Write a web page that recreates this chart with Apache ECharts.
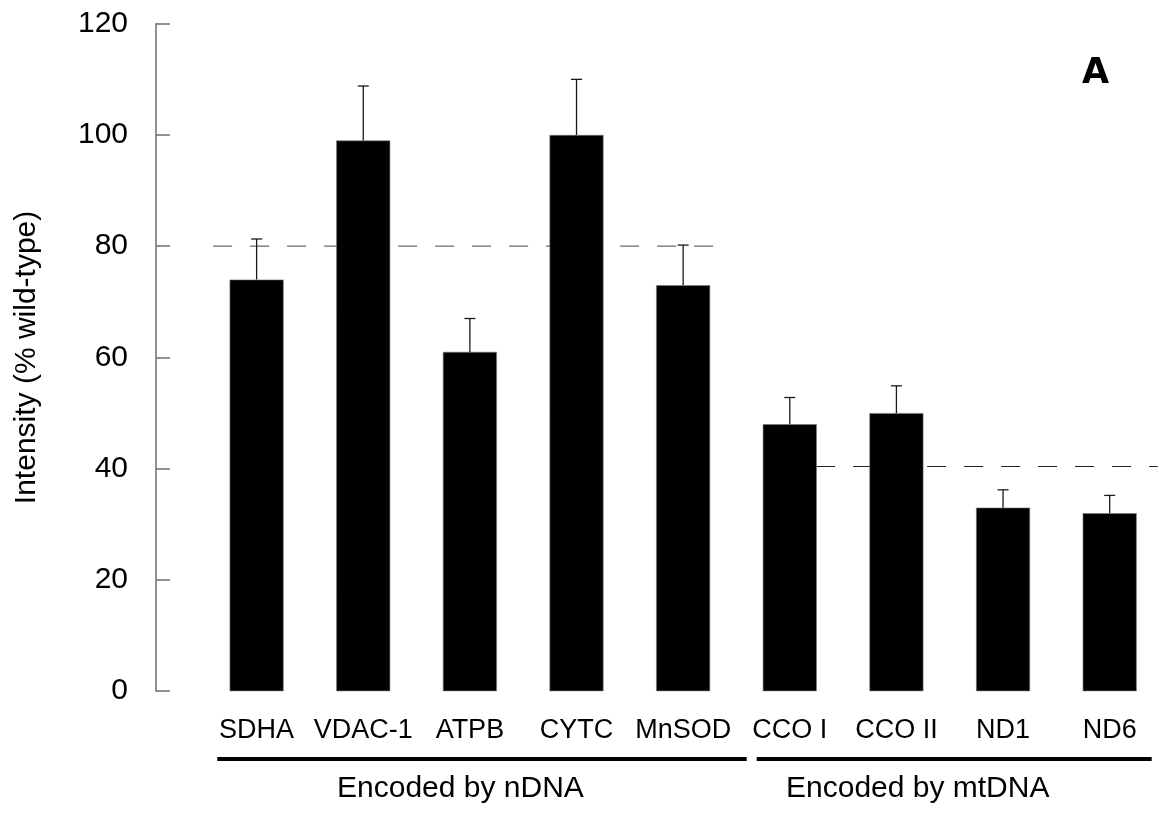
<!DOCTYPE html>
<html>
<head>
<meta charset="utf-8">
<script src="https://cdn.jsdelivr.net/npm/echarts@6/dist/echarts.min.js"></script>
<style>
html,body{margin:0;padding:0;background:#fff;}
#chart{width:1163px;height:814px;}
</style>
</head>
<body>
<div id="chart"></div>
<script>
// ---- data ----
var categories = ['SDHA', 'VDAC-1', 'ATPB', 'CYTC', 'MnSOD', 'CCO I', 'CCO II', 'ND1', 'ND6'];
var values = [74, 99, 61, 100, 73, 48, 50, 33, 32];
var errors = [7.3, 9.8, 6.0, 10.0, 7.2, 4.8, 4.9, 3.2, 3.2];
var yTicks = [0, 20, 40, 60, 80, 100, 120];
// dashed reference levels (value) and their extent in category units
var refValues = [80, 40.4];
var refFrom = [-0.755, 4.9];
var refTo = [4.283, 8.45];
var groupLabels = ['Encoded by nDNA', 'Encoded by mtDNA'];
var panelLabel = 'A';
var yName = 'Intensity (% wild-type)';

var FONT = "'Liberation Sans', Arial, Helvetica, sans-serif";
var chart = echarts.init(document.getElementById('chart'), null, {renderer: 'canvas'});

var refSeries = refValues.map(function (v, i) {
  return {
    type: 'line',
    xAxisIndex: 1,
    data: [[refFrom[i], v], [refTo[i], v]],
    symbol: 'none',
    clip: false,
    silent: true,
    z: 1,
    lineStyle: {color: i === 0 ? '#6a6a6a' : '#222', width: 1.2, type: [19, 18]}
  };
});

var option = {
  animation: false,
  backgroundColor: '#fff',
  grid: {left: 203.3, right: -6.3, top: 23.7, bottom: 122.8, containLabel: false},
  xAxis: [{
    type: 'category',
    data: categories,
    axisLine: {show: false, onZero: false},
    axisTick: {show: false},
    axisLabel: {color: '#000', fontFamily: FONT, fontSize: 27, margin: 26, interval: 0}
  }, {
    type: 'value',
    min: -0.5,
    max: 8.5,
    show: false,
    axisLine: {onZero: false}
  }],
  yAxis: {
    type: 'value',
    min: yTicks[0],
    max: yTicks[yTicks.length - 1],
    interval: 20,
    offset: 47.3,
    name: yName,
    nameLocation: 'middle',
    nameRotate: 90,
    nameGap: 114,
    nameTextStyle: {color: '#000', fontFamily: FONT, fontSize: 30},
    axisLine: {show: true, onZero: false, lineStyle: {color: '#6e6e6e', width: 1.5}},
    axisTick: {show: true, inside: true, length: 14, lineStyle: {color: '#6e6e6e', width: 1.5}},
    axisLabel: {color: '#000', fontFamily: FONT, fontSize: 30, margin: 28},
    splitLine: {show: false}
  },
  series: refSeries.concat([{
    type: 'bar',
    data: values,
    barWidth: 54,
    z: 3,
    itemStyle: {color: '#000', borderColor: '#7a7a7a', borderWidth: 0.6}
  }, {
    type: 'custom',
    z: 4,
    data: values.map(function (v, i) { return [i, v, v + errors[i]]; }),
    renderItem: function (params, api) {
      var i = api.value(0);
      var p0 = api.coord([i, api.value(1)]);
      var p1 = api.coord([i, api.value(2)]);
      var hw = 5.5;
      var st = {stroke: '#1a1a1a', lineWidth: 1.3};
      return {
        type: 'group',
        children: [
          {type: 'line', shape: {x1: p0[0], y1: p0[1], x2: p1[0], y2: p1[1]}, style: st},
          {type: 'line', shape: {x1: p1[0] - hw, y1: p1[1], x2: p1[0] + hw, y2: p1[1]}, style: st}
        ]
      };
    }
  }]),
  graphic: [
    {type: 'rect', shape: {x: 217.3, y: 757, width: 529.4, height: 4}, style: {fill: '#000'}},
    {type: 'rect', shape: {x: 756.7, y: 757, width: 395, height: 4}, style: {fill: '#000'}},
    {type: 'text', x: 337, y: 789, style: {text: groupLabels[0], fill: '#000', font: '30px ' + FONT, textAlign: 'left', textVerticalAlign: 'middle'}},
    {type: 'text', x: 786, y: 789, style: {text: groupLabels[1], fill: '#000', font: '30px ' + FONT, textAlign: 'left', textVerticalAlign: 'middle'}},
    {type: 'text', x: 1095.5, y: 74, style: {text: panelLabel, fill: '#000', font: "900 35px 'DejaVu Sans', sans-serif", textAlign: 'center', textVerticalAlign: 'middle'}}
  ]
};
chart.setOption(option);
</script>
</body>
</html>
